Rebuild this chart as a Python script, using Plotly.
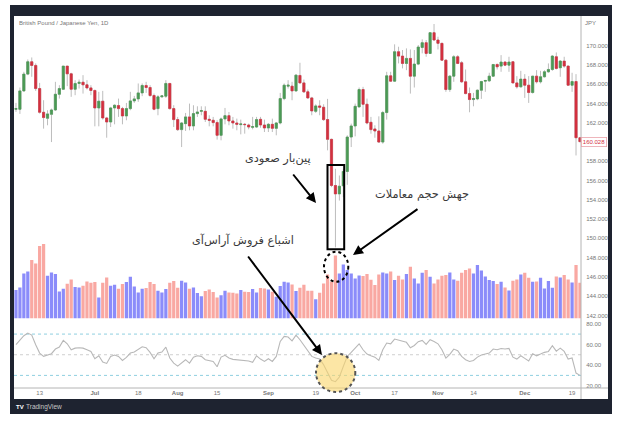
import plotly.graph_objects as go

# Daily GBP/JPY values, one entry per trading day
opens = [163.39, 163.39, 165.30, 167.04, 168.32, 167.94, 165.54, 163.08, 162.46, 162.87,
         163.32, 164.95, 165.47, 167.87, 167.07, 165.47, 166.07, 166.20, 165.93, 165.61,
         165.34, 163.53, 164.23, 162.49, 162.07, 163.53, 163.77, 163.46, 162.70, 163.46,
         164.26, 164.47, 165.09, 165.86, 165.65, 164.82, 163.46, 164.68, 164.75, 166.07,
         163.46, 162.32, 161.28, 161.90, 162.60, 161.66, 162.94, 163.18, 163.18, 162.35,
         162.25, 162.01, 160.69, 162.39, 162.73, 162.18, 161.97, 161.80, 161.83, 161.76,
         161.52, 161.55, 162.35, 161.76, 161.45, 161.83, 161.41, 161.97, 164.50, 165.79,
         165.79, 165.30, 166.90, 166.13, 165.20, 164.57, 163.18, 163.74, 163.60, 162.32,
         160.27, 155.48, 154.61, 155.45, 156.94, 160.51, 161.66, 163.64, 165.44, 163.91,
         162.04, 161.35, 161.14, 159.99, 163.05, 166.86, 166.31, 169.36, 168.91, 168.15,
         168.67, 166.83, 168.08, 169.81, 170.30, 169.19, 171.34, 170.58, 170.23, 168.49,
         165.44, 166.83, 168.84, 168.22, 166.24, 165.02, 164.40, 164.47, 165.37, 166.31,
         166.34, 166.83, 168.04, 167.87, 168.29, 167.97, 168.32, 166.13, 165.72, 166.52,
         165.89, 165.13, 166.83, 166.24, 166.76, 167.28, 167.52, 168.84, 167.70, 168.39,
         167.87, 165.89, 166.27, 160.44]
highs = [164.05, 165.65, 167.28, 168.56, 168.77, 168.15, 166.13, 164.33, 163.29, 163.46,
         166.24, 165.89, 167.87, 167.87, 167.18, 166.41, 166.48, 166.93, 166.41, 165.89,
         165.44, 165.20, 165.30, 162.60, 163.64, 163.91, 164.50, 163.64, 164.05, 165.20,
         164.78, 166.07, 166.07, 166.24, 165.89, 165.02, 164.85, 164.85, 166.41, 166.13,
         163.81, 162.60, 162.07, 163.01, 163.98, 163.81, 163.70, 163.70, 163.70, 162.77,
         162.60, 162.25, 162.53, 163.53, 163.11, 162.60, 162.42, 162.32, 161.97, 161.90,
         162.60, 162.60, 162.60, 162.32, 161.97, 162.42, 162.07, 165.09, 166.07, 166.41,
         166.24, 167.04, 168.22, 166.48, 165.44, 164.68, 163.91, 164.33, 163.91, 164.47,
         160.34, 157.22, 156.52, 157.22, 160.69, 161.90, 163.98, 165.65, 165.72, 164.50,
         162.60, 161.73, 162.66, 163.22, 167.28, 167.28, 170.13, 169.88, 169.54, 169.71,
         169.60, 169.54, 170.06, 170.65, 170.58, 171.34, 172.24, 170.92, 170.30, 168.56,
         166.93, 169.01, 169.01, 168.39, 167.52, 165.65, 165.09, 165.44, 166.34, 166.41,
         167.18, 168.04, 168.15, 169.01, 168.39, 168.84, 168.39, 166.83, 167.38, 167.04,
         166.83, 166.83, 167.45, 167.38, 167.45, 168.15, 169.01, 169.29, 168.49, 168.84,
         167.94, 167.18, 167.04, 160.44]
lows = [163.12, 162.91, 165.20, 166.93, 166.76, 165.30, 162.94, 161.38, 161.73, 159.99,
        163.22, 164.50, 165.44, 165.79, 164.68, 164.85, 165.54, 165.02, 165.44, 164.85,
        161.62, 161.62, 162.32, 160.44, 161.55, 161.83, 162.60, 161.83, 162.25, 163.29,
        164.05, 164.16, 164.75, 165.09, 164.68, 163.29, 162.77, 164.61, 164.57, 163.36,
        161.55, 161.14, 159.47, 161.14, 161.21, 161.21, 162.60, 162.77, 162.07, 161.62,
        161.62, 160.24, 160.17, 161.83, 161.73, 161.38, 161.21, 160.79, 160.86, 161.31,
        161.31, 161.45, 161.48, 161.03, 161.03, 161.03, 160.69, 161.83, 164.33, 165.54,
        164.33, 165.20, 166.07, 165.09, 164.47, 162.77, 163.01, 162.77, 162.18, 159.13,
        155.31, 149.06, 153.92, 154.27, 155.55, 159.47, 160.58, 163.57, 162.60, 161.83,
        160.86, 160.44, 159.89, 159.82, 162.32, 166.24, 166.24, 168.15, 167.63, 167.45,
        165.02, 165.65, 167.97, 169.19, 168.84, 169.19, 170.51, 169.60, 168.42, 165.20,
        165.20, 166.24, 168.08, 166.13, 164.95, 163.08, 163.70, 164.33, 164.47, 165.20,
        166.24, 166.76, 167.52, 167.28, 167.87, 167.28, 166.07, 165.54, 165.65, 164.57,
        164.05, 165.02, 166.07, 166.07, 166.69, 167.18, 167.38, 167.52, 166.76, 167.70,
        165.82, 165.20, 158.60, 160.03]
closes = [163.46, 165.30, 167.04, 168.32, 167.94, 165.54, 163.08, 162.53, 162.91, 163.32,
          164.95, 165.54, 167.87, 167.07, 165.47, 166.07, 166.20, 165.93, 165.61, 165.34,
          163.53, 164.23, 162.49, 162.07, 163.53, 163.81, 163.46, 162.70, 163.46, 164.26,
          164.47, 165.09, 165.86, 165.65, 164.82, 163.39, 164.68, 164.78, 166.07, 163.46,
          162.32, 161.28, 161.97, 162.60, 161.66, 162.94, 163.11, 163.25, 162.35, 162.25,
          162.01, 160.69, 162.39, 162.73, 162.18, 161.97, 161.83, 161.87, 161.80, 161.55,
          161.59, 162.32, 161.76, 161.45, 161.83, 161.41, 161.97, 164.50, 165.89, 165.89,
          165.30, 166.93, 166.13, 165.20, 164.57, 163.22, 163.74, 163.60, 162.32, 160.27,
          155.48, 154.61, 155.41, 156.94, 160.51, 161.66, 163.70, 165.44, 163.91, 161.97,
          161.28, 161.14, 159.99, 163.05, 166.86, 166.31, 169.36, 168.91, 168.15, 168.67,
          166.83, 168.08, 169.85, 170.30, 169.19, 171.34, 170.58, 170.23, 168.49, 165.44,
          166.83, 168.84, 168.15, 166.24, 165.02, 164.40, 164.50, 165.37, 166.27, 166.38,
          166.83, 168.04, 167.80, 168.29, 167.97, 168.29, 166.13, 165.72, 166.52, 165.89,
          165.13, 166.83, 166.24, 166.76, 167.28, 167.52, 168.91, 167.63, 168.39, 167.87,
          165.89, 166.27, 160.44, 160.03]
volumes = [85, 93, 135, 141, 175, 165, 217, 223, 128, 138, 133, 81, 89, 104, 117, 94, 93, 98, 111, 107,
           109, 63, 107, 123, 98, 101, 89, 103, 109, 125, 96, 78, 89, 91, 109, 103, 83, 78, 88, 107,
           112, 92, 113, 108, 89, 93, 76, 67, 82, 87, 79, 63, 70, 83, 78, 77, 75, 85, 80, 79,
           88, 78, 91, 90, 87, 80, 65, 97, 110, 108, 102, 82, 92, 101, 83, 83, 58, 77, 105, 132,
           110, 189, 135, 162, 145, 135, 120, 129, 127, 133, 116, 100, 132, 138, 135, 141, 115, 128, 117, 133,
           155, 120, 105, 137, 145, 125, 105, 117, 128, 130, 138, 117, 113, 137, 145, 150, 135, 160, 144, 126,
           115, 112, 103, 110, 93, 84, 113, 117, 132, 137, 122, 110, 111, 122, 90, 112, 92, 126, 123, 130,
           117, 108, 160, 107]
rsi = [59.7, 63.9, 68.4, 71.0, 69.0, 59.7, 51.6, 48.4, 49.7, 51.0, 55.5, 57.4, 63.9, 60.6, 54.8, 56.4,
       56.8, 56.4, 54.8, 53.2, 46.1, 49.0, 42.9, 41.6, 48.4, 49.7, 48.4, 44.5, 47.4, 51.6, 52.6, 55.5,
       57.7, 56.8, 52.3, 46.1, 51.6, 52.6, 57.4, 46.8, 41.9, 39.0, 41.9, 45.2, 41.9, 47.7, 49.0, 48.4,
       45.2, 44.5, 43.5, 38.4, 47.7, 49.4, 46.8, 45.5, 45.2, 44.5, 44.2, 43.9, 42.6, 49.0, 45.8, 43.5,
       46.1, 43.5, 48.4, 62.9, 67.7, 67.1, 63.5, 69.0, 64.5, 58.7, 54.2, 48.4, 46.8, 45.8, 40.3, 32.9,
       25.2, 23.9, 28.4, 38.7, 48.4, 52.3, 56.4, 60.6, 54.8, 50.6, 49.0, 47.7, 44.5, 54.8, 61.3, 60.6,
       65.2, 63.9, 62.6, 62.0, 56.8, 59.0, 62.6, 63.9, 60.0, 64.5, 62.9, 60.6, 54.8, 46.8, 50.3, 55.5,
       53.9, 48.4, 45.2, 43.5, 44.5, 47.7, 49.7, 50.6, 51.6, 55.5, 54.8, 56.1, 55.5, 56.1, 47.7, 45.8,
       49.0, 46.5, 43.9, 51.0, 49.0, 50.6, 52.3, 53.2, 58.7, 53.5, 56.4, 53.2, 45.8, 46.8, 32.3, 30.0]

date_ticks = [6, 20, 31, 41, 51, 64, 76, 86, 96, 107, 116, 129, 141]
date_labels = ["13", "<b>Jul</b>", "18", "<b>Aug</b>", "15", "<b>Sep</b>", "19", "<b>Oct</b>", "17",
               "<b>Nov</b>", "14", "<b>Dec</b>", "19"]
price_ticks = [142, 144, 146, 148, 150, 152, 154, 156, 158, 162, 164, 166, 168, 170]
rsi_ticks = [20, 40, 60, 80]
last_price = "160.028"

W, H = 624, 422
DARK = "#1e2330"
GREEN = "#4b9a55"
RED = "#d3303f"
GREY_TEXT = "#777777"
FARSI = "DejaVu Sans"


# picture pixels to paper fractions, only for the frame and the drawn-on notes
def px(x):
    return x / W


def py(y):
    return 1 - y / H


def rect(x0, y0, x1, y1, **kw):
    return dict(type="rect", xref="paper", yref="paper", x0=px(x0), x1=px(x1), y0=py(y0), y1=py(y1), **kw)


def line(x0, y0, x1, y1, color="#b4b4b4", width=1):
    return dict(type="line", xref="paper", yref="paper", x0=px(x0), x1=px(x1), y0=py(y0), y1=py(y1),
                line=dict(color=color, width=width))


def rsi_level(level, color):
    return dict(type="line", xref="x", yref="y3", x0=-0.5, x1=143.3, y0=level, y1=level,
                line=dict(color=color, width=1, dash="dot"), layer="below")


days = list(range(len(opens)))
body_high = [max(o, c) for o, c in zip(opens, closes)]
body_low = [min(o, c) for o, c in zip(opens, closes)]
volume_colors = ["#8b8cfa" if c >= o else "#f9a8a2" for o, c in zip(opens, closes)]

fig = go.Figure()

# wicks first in grey, then the coloured bodies on top
fig.add_trace(go.Candlestick(x=days, open=opens, high=highs, low=lows, close=closes, whiskerwidth=0,
                             increasing=dict(line=dict(color="#bdbdbd", width=1), fillcolor=GREEN),
                             decreasing=dict(line=dict(color="#bdbdbd", width=1), fillcolor=RED),
                             hoverinfo="skip", yaxis="y"))
fig.add_trace(go.Candlestick(x=days, open=opens, high=body_high, low=body_low, close=closes, whiskerwidth=0,
                             increasing=dict(line=dict(color=GREEN, width=0.6), fillcolor=GREEN),
                             decreasing=dict(line=dict(color=RED, width=0.6), fillcolor=RED),
                             hoverinfo="skip", yaxis="y"))
fig.add_trace(go.Bar(x=days, y=volumes, marker=dict(color=volume_colors, line=dict(width=0)), width=0.82, yaxis="y2"))
fig.add_trace(go.Scatter(x=days, y=rsi, mode="lines", line=dict(color="#b8b8b8", width=1.1), yaxis="y3"))

tick_font = dict(family="Liberation Sans", size=6, color=GREY_TEXT)
shapes = [
    rect(10, 5, 612, 414, fillcolor=DARK, line=dict(width=0), layer="below"),
    rect(14, 16, 608, 399, fillcolor="white", line=dict(width=0), layer="below"),
    rsi_level(70, "#8fcfe0"),
    rsi_level(50, "#cfcfcf"),
    rsi_level(30, "#8fcfe0"),
    line(581, 16, 581, 399),
    line(14, 388, 608, 388),
    # notes drawn over the chart
    rect(327.5, 165, 344.2, 249.3, line=dict(color="black", width=2)),
    dict(type="circle", xref="paper", yref="paper", x0=px(324), x1=px(348.3), y0=py(251.7), y1=py(281.7),
         line=dict(color="black", width=2, dash="dot")),
    dict(type="circle", xref="paper", yref="paper", x0=px(316), x1=px(355.3), y0=py(353.3), y1=py(392),
         fillcolor="rgba(250,214,110,0.62)", line=dict(color="#555555", width=2, dash="dot")),
]


def label(text, x, y, font, xanchor="center", **kw):
    return dict(text=text, xref="paper", yref="paper", x=px(x), y=py(y), xanchor=xanchor, yanchor="middle",
                showarrow=False, font=font, **kw)


def arrow(x0, y0, x1, y1):
    return dict(text="", xref="paper", yref="paper", axref="pixel", ayref="pixel", x=px(x1), y=py(y1),
                ax=x0 - x1, ay=y0 - y1, showarrow=True, arrowhead=2, arrowsize=1, arrowwidth=2, arrowcolor="black")


note_font = dict(family=FARSI, size=11.3, color="#3a3a3a")
annotations = [
    label("پین‌بار صعودی", 278, 159, note_font),
    label("جهش حجم معاملات", 422, 195, note_font),
    label("اشباع فروش آراس‌آی", 243, 240, note_font),
    arrow(292, 173, 316, 203),
    arrow(419, 208, 353, 255),
    arrow(247, 255, 322, 355),
    label("British Pound / Japanese Yen, 1D", 17, 23, tick_font, xanchor="left"),
    label("JPY", 590, 23, tick_font),
    label(last_price, 593.5, 141.5, dict(family="Liberation Sans", size=6, color=RED), bgcolor="white",
          bordercolor="#eaa3aa", borderwidth=0.8, borderpad=1),
    label("<b>TV</b>", 14, 407, dict(family="Liberation Sans", size=6, color="white"), xanchor="left"),
    label("TradingView", 24, 407, dict(family="Liberation Sans", size=6.5, color="#c8c8c8"), xanchor="left"),
]

fig.update_layout(
    width=W,
    height=H,
    margin=dict(l=0, r=0, t=0, b=0),
    paper_bgcolor="white",
    plot_bgcolor="rgba(0,0,0,0)",
    showlegend=False,
    boxgap=0.22,
    barmode="overlay",
    shapes=shapes,
    annotations=annotations,
    xaxis=dict(domain=[px(14), px(581)], range=[-0.5, 143.26], anchor="y3", tickvals=date_ticks, ticktext=date_labels,
               tickangle=0, tickfont=tick_font, showgrid=False, zeroline=False, ticks="", ticklen=0,
               rangeslider=dict(visible=False)),
    yaxis=dict(domain=[py(318.5), py(16)], range=[141.68, 173.07], side="right", anchor="x", tickvals=price_ticks,
               tickformat=".3f", tickfont=tick_font, showgrid=False, zeroline=False, ticks="outside", ticklen=3,
               tickcolor="rgba(0,0,0,0)"),
    yaxis2=dict(overlaying="y", range=[0, 906], visible=False),
    yaxis3=dict(domain=[py(388), py(319)], range=[17.8, 84.6], side="right", anchor="x", tickvals=rsi_ticks,
                tickformat=".2f", tickfont=tick_font, showgrid=False, zeroline=False, ticks="outside", ticklen=3,
                tickcolor="rgba(0,0,0,0)"),
)

fig.write_html("out.html", config=dict(displayModeBar=False), post_script="document.body.style.margin='0';")
